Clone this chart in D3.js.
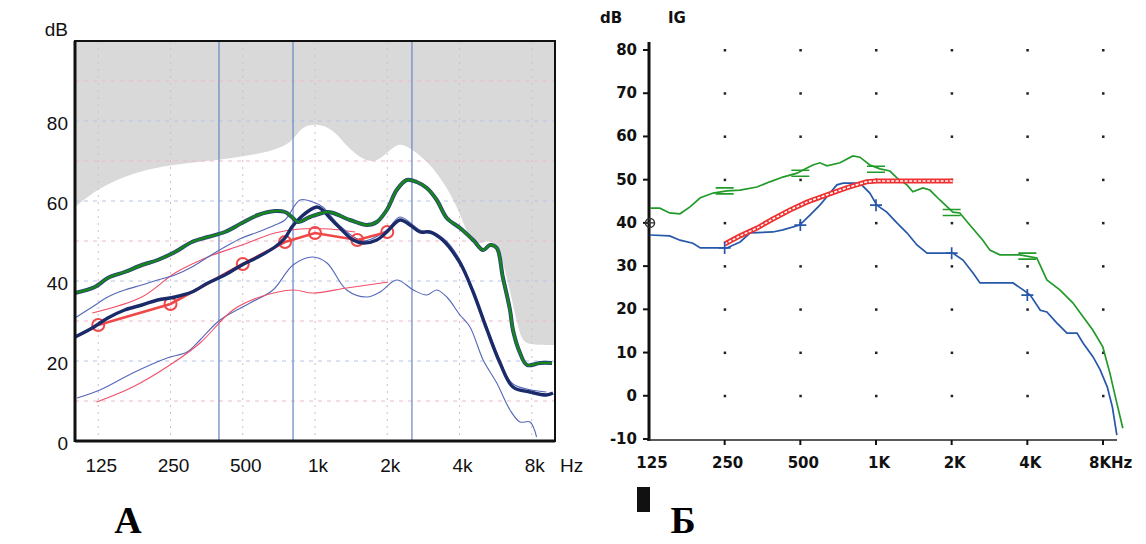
<!DOCTYPE html>
<html>
<head>
<meta charset="utf-8">
<script src="https://cdn.jsdelivr.net/npm/d3@7"></script>
<style>
  body { margin: 0; background: #fff; }
  svg { display: block; }
  .lblA { font-family: "Liberation Sans", Arial, sans-serif; font-size: 19px; fill: #111; }
  .lblB { font-family: "DejaVu Sans", sans-serif; font-size: 15px; font-weight: 600; fill: #111; }
  .panel { font-family: "Liberation Serif", serif; font-weight: bold; font-size: 38px; fill: #000; }
</style>
</head>
<body>
<svg id="chart" width="1146" height="544"></svg>
<script>
// ---------- panel A ----------
const octaveFreqs = [125, 250, 500, 1000, 2000, 4000, 8000];
const octaveLabelsA = ["125", "250", "500", "1k", "2k", "4k", "8k"];
const dbTicksA = [0, 20, 40, 60, 80];
const gridDbA = [10, 20, 30, 40, 50, 60, 70, 80, 90];
const channelEdgesA = [398, 810, 2535];

// upper edge of the white (in-range) region, the rest stays grey
const limitFreqA = [100, 127, 174, 242, 398, 630, 810, 866, 1019, 1206, 1355, 1646, 1866, 2190, 2410, 3014, 3540, 4020, 4290, 4700, 5360, 5900, 6494, 7148, 7640, 10000];
const limitDbA = [58.5, 63.5, 67, 69, 70.25, 72, 74.5, 78.5, 79.5, 77.75, 73.5, 69.5, 70.25, 74.5, 74, 69.5, 63.5, 57, 52, 48.5, 50.75, 47.75, 37.75, 25.75, 24, 24];

const greenFreqA = [100, 121, 137, 161, 190, 221, 261, 307, 358, 421, 496, 579, 681, 750, 801, 849, 953, 1122, 1191, 1399, 1646, 1810, 1991, 2190, 2410, 2654, 2922, 3216, 3540, 4020, 4560, 5019, 5360, 5720, 6060, 6494, 6680, 7148, 7640, 8660, 9720];
const greenDbA = [37, 38.5, 40.75, 42.25, 44, 45.25, 47.25, 49.75, 51, 52.25, 54.5, 56.5, 57.5, 57.25, 56, 54.75, 56, 57.25, 57, 55.25, 54, 54.75, 57.75, 62.75, 65.25, 64.75, 63.25, 60.25, 55.75, 53.25, 50.25, 47.75, 49, 48.25, 41, 32.75, 27.75, 22, 19, 19.5, 19.5];

const navyFreqA = [100, 118, 137, 161, 190, 221, 261, 307, 358, 421, 496, 579, 681, 750, 801, 866, 953, 1019, 1076, 1155, 1271, 1441, 1586, 1810, 1991, 2261, 2489, 2738, 3014, 3404, 4020, 4560, 5210, 5900, 6680, 7868, 9200, 9816];
const navyDbA = [26, 28.25, 30.75, 32.75, 34, 35.25, 36, 37.25, 39.5, 41.5, 44, 46, 48.5, 50.75, 53.5, 55.75, 57.75, 58.5, 57.75, 55.75, 53.25, 50.25, 49.5, 50.25, 52.25, 55.25, 54, 52.25, 52.25, 50.25, 44.5, 37.25, 27.75, 19.5, 13.5, 12.25, 11.5, 12];

const thinBlueHiFreqA = [100, 118, 137, 161, 190, 221, 261, 307, 358, 421, 496, 579, 681, 750, 866, 979, 1076, 1271, 1586, 1991, 2261, 2738, 3404, 4020, 5210, 5900, 6680, 9200];
const thinBlueHiDbA = [30.75, 33.5, 36, 37.75, 39, 40.25, 41.5, 43.5, 46, 48.5, 50.75, 52.25, 54, 55.25, 60.25, 59.75, 58.5, 53.75, 50, 52.75, 56, 52.75, 50.75, 45.25, 28.5, 20.25, 14.25, 12.25];

const thinBlueLoFreqA = [102, 127, 174, 242, 293, 332, 402, 536, 668, 810, 979, 1122, 1355, 1646, 1866, 2190, 2568, 2922, 3216, 3540, 4020, 4424, 5019, 5720, 6494, 7148, 7868, 8380];
const thinBlueLoDbA = [10.75, 12.75, 17, 20.75, 22.25, 25.25, 30.25, 34.5, 37.75, 44, 46, 44.5, 37.75, 36, 37.25, 40.25, 37.75, 36.5, 37.75, 36, 31.5, 28.5, 20.25, 14.5, 7.75, 4.75, 4.75, 1];

const thinRedHiFreqA = [118, 190, 261, 358, 496, 681, 866, 1155, 1470];
const thinRedHiDbA = [32, 36, 42, 46, 49, 52, 53, 53, 52.25];

const thinRedLoFreqA = [123, 174, 256, 332, 455, 590, 810, 979, 1355, 2020];
const thinRedLoDbA = [9.75, 13.5, 19.5, 24.5, 32.75, 36, 37.75, 37, 38.25, 39.75];

const redFreqA = [125, 250, 500, 750, 1000, 1500, 2000];
const redDbA = [29, 34.25, 44.25, 49.75, 52, 50.25, 52.25];

// ---------- panel B ----------
const octaveLabelsB = ["125", "250", "500", "1K", "2K", "4K", "8KHz"];
const dbTicksB = [-10, 0, 10, 20, 30, 40, 50, 60, 70, 80];
const dotFreqB = [250, 500, 1000, 2000, 4000, 8000];
const dotDbB = [0, 10, 20, 30, 40, 50, 60, 70, 80];

const greenFreqB = [126, 138, 151, 166, 182, 200, 225, 255, 288, 336, 378, 426, 485, 531, 561, 598, 638, 719, 809, 863, 945, 1037, 1136, 1211, 1327, 1402, 1537, 1638, 1795, 2022, 2155, 2362, 2661, 2838, 3110, 3734, 4363, 4784, 5388, 6067, 7285, 7985, 8516, 9081, 9595];
const greenDbB = [43.4, 43.4, 42.3, 42.1, 43.7, 45.8, 46.9, 47.4, 47.6, 48.3, 49.5, 50.6, 51.5, 52.7, 53.4, 53.9, 53.2, 53.9, 55.5, 55.2, 53.4, 52.5, 52.0, 50.4, 48.8, 47.2, 48.1, 47.6, 45.3, 42.5, 42.3, 39.5, 36.0, 33.7, 32.6, 32.6, 31.9, 26.8, 24.5, 21.5, 15.2, 11.3, 5.3, -1.7, -7.5];

const blueFreqB = [126, 151, 166, 187, 200, 255, 288, 316, 389, 426, 497, 546, 598, 656, 699, 740, 863, 945, 1008, 1104, 1211, 1327, 1455, 1596, 2022, 2218, 2432, 2593, 3510, 3850, 4108, 4505, 4784, 5246, 5752, 6307, 6663, 7305, 7797, 8322, 8717, 9081];
const blueDbB = [37.2, 37.0, 36.0, 35.3, 34.2, 34.2, 35.6, 37.7, 37.9, 38.4, 39.5, 41.8, 44.1, 46.9, 48.8, 49.2, 49.2, 46.9, 44.1, 42.5, 40.0, 37.7, 34.9, 33.0, 33.0, 31.4, 28.4, 26.1, 26.1, 24.5, 23.3, 19.8, 19.4, 16.8, 14.5, 14.5, 12.2, 9.0, 6.0, 2.0, -2.6, -9.1];

const redFreqB = [250, 288, 336, 389, 455, 531, 638, 763, 918, 1008, 2022];
const redDbB = [35.1, 37.0, 38.8, 40.9, 43.0, 44.8, 46.5, 48.1, 49.5, 49.7, 49.7];

const markFreqB = [250, 500, 1000, 2000, 4000];
const greenMarkDbB = [47.4, 51.5, 52.4, 42.4, 32.3];
const blueMarkDbB = [34.2, 39.5, 44.1, 33.0, 23.3];

const zip = (fs, ds) => fs.map((f, i) => [f, ds[i]]);

const svg = d3.select("#chart");

// ================= A =================
const xA = d3.scaleLog().domain([100, 10000]).range([75, 555]);
const yA = d3.scaleLinear().domain([0, 100]).range([441, 41]);
const gA = svg.append("g");

gA.append("rect")
    .attr("x", xA(100)).attr("y", yA(100))
    .attr("width", xA(10000) - xA(100)).attr("height", yA(0) - yA(100))
    .attr("fill", "#d9d9d9");

gA.append("path")
    .datum(zip(limitFreqA, limitDbA))
    .attr("fill", "#fff")
    .attr("d", d3.area().curve(d3.curveBasis)
        .x(d => xA(d[0])).y0(yA(0)).y1(d => yA(d[1])));

// faint dashed grid
gA.selectAll(".hgrid").data(gridDbA).enter().append("line")
    .attr("x1", xA(100)).attr("x2", xA(10000))
    .attr("y1", d => yA(d)).attr("y2", d => yA(d))
    .attr("stroke", (d, i) => i % 2 ? "#b8c4e6" : "#efb8c8")
    .attr("stroke-width", 1)
    .attr("stroke-dasharray", "4,5");
gA.selectAll(".vgrid").data(octaveFreqs).enter().append("line")
    .attr("x1", d => xA(d)).attr("x2", d => xA(d))
    .attr("y1", yA(100)).attr("y2", yA(0))
    .attr("stroke", "#dcb8d0")
    .attr("stroke-width", 1)
    .attr("stroke-dasharray", "2,5");

gA.selectAll(".edge").data(channelEdgesA).enter().append("line")
    .attr("x1", d => xA(d)).attr("x2", d => xA(d))
    .attr("y1", yA(100)).attr("y2", yA(0))
    .attr("stroke", "#6f8cc6")
    .attr("stroke-width", 1.3);

const lineA = d3.line().curve(d3.curveCatmullRom.alpha(0.5))
    .x(d => xA(d[0])).y(d => yA(d[1]));

const thinA = [
    [thinBlueLoFreqA, thinBlueLoDbA, "#5468b8"],
    [thinRedLoFreqA, thinRedLoDbA, "#f0506a"],
    [thinRedHiFreqA, thinRedHiDbA, "#f0506a"],
    [thinBlueHiFreqA, thinBlueHiDbA, "#5468b8"]
];
thinA.forEach(c => {
    gA.append("path").datum(zip(c[0], c[1]))
        .attr("fill", "none").attr("stroke", c[2]).attr("stroke-width", 1.1)
        .attr("d", lineA);
});

gA.append("path").datum(zip(redFreqA, redDbA))
    .attr("fill", "none").attr("stroke", "#f04848").attr("stroke-width", 2.6)
    .attr("d", d3.line().x(d => xA(d[0])).y(d => yA(d[1])));
gA.selectAll(".rc").data(zip(redFreqA, redDbA)).enter().append("circle")
    .attr("cx", d => xA(d[0])).attr("cy", d => yA(d[1])).attr("r", 6)
    .attr("fill", "none").attr("stroke", "#f04848").attr("stroke-width", 2);

gA.append("path").datum(zip(navyFreqA, navyDbA))
    .attr("fill", "none").attr("stroke", "#1b2a68").attr("stroke-width", 3.4)
    .attr("d", lineA);
gA.append("path").datum(zip(greenFreqA, greenDbA))
    .attr("fill", "none").attr("stroke", "#2a3f7a").attr("stroke-width", 4)
    .attr("d", lineA);
gA.append("path").datum(zip(greenFreqA, greenDbA))
    .attr("fill", "none").attr("stroke", "#17871c").attr("stroke-width", 2.4)
    .attr("d", lineA);

// frame
gA.append("rect")
    .attr("x", xA(100)).attr("y", yA(100))
    .attr("width", xA(10000) - xA(100)).attr("height", yA(0) - yA(100))
    .attr("fill", "none").attr("stroke", "#111").attr("stroke-width", 2);
gA.append("line").attr("x1", xA(100)).attr("x2", xA(100)).attr("y1", yA(100)).attr("y2", yA(0) + 1)
    .attr("stroke", "#111").attr("stroke-width", 3);
gA.append("line").attr("x1", xA(100)).attr("x2", xA(10000)).attr("y1", yA(0)).attr("y2", yA(0))
    .attr("stroke", "#111").attr("stroke-width", 3);

gA.selectAll(".yl").data(dbTicksA).enter().append("text")
    .attr("class", "lblA").attr("text-anchor", "end")
    .attr("x", 68).attr("y", d => yA(d) + 9)
    .text(d => d);
gA.append("text").attr("class", "lblA").attr("text-anchor", "end")
    .attr("x", 68).attr("y", 36).text("dB");
gA.selectAll(".xl").data(octaveFreqs).enter().append("text")
    .attr("class", "lblA").attr("text-anchor", "middle")
    .attr("x", d => xA(d) + 3).attr("y", 472)
    .text((d, i) => octaveLabelsA[i]);
gA.append("text").attr("class", "lblA").attr("x", 560).attr("y", 472).text("Hz");

// ================= Б =================
const xB = d3.scaleLog().domain([125, 8000]).range([649, 1103]);
const yB = d3.scaleLinear().domain([-10, 80]).range([439, 50]);
const gB = svg.append("g");

gB.selectAll(".dots").data(d3.cross(dotFreqB, dotDbB)).enter().append("rect")
    .attr("x", d => xB(d[0]) - 1).attr("y", d => yB(d[1]) - 1)
    .attr("width", 2.5).attr("height", 2.5).attr("fill", "#222");

gB.append("line").attr("x1", 649).attr("x2", 649).attr("y1", 42).attr("y2", yB(-10) + 2)
    .attr("stroke", "#111").attr("stroke-width", 3);
gB.append("line").attr("x1", 647).attr("x2", 1117).attr("y1", yB(-10) + 1).attr("y2", yB(-10) + 1)
    .attr("stroke", "#222").attr("stroke-width", 1.5);
gB.selectAll(".yt").data(dbTicksB).enter().append("line")
    .attr("x1", 643).attr("x2", 649).attr("y1", d => yB(d)).attr("y2", d => yB(d))
    .attr("stroke", "#111").attr("stroke-width", 2);
gB.selectAll(".xt").data(octaveFreqs.slice(1)).enter().append("line")
    .attr("x1", d => xB(d)).attr("x2", d => xB(d)).attr("y1", yB(-10) + 1).attr("y2", yB(-10) + 6)
    .attr("stroke", "#111").attr("stroke-width", 2);

gB.selectAll(".yl").data(dbTicksB).enter().append("text")
    .attr("class", "lblB").attr("text-anchor", "end")
    .attr("x", 637).attr("y", d => yB(d) + 5)
    .text(d => d);
gB.selectAll(".xl").data(octaveFreqs).enter().append("text")
    .attr("class", "lblB").attr("text-anchor", (d, i) => i === 6 ? "start" : "middle")
    .attr("x", (d, i) => i === 6 ? xB(d) - 14 : xB(d) + 3).attr("y", 468)
    .text((d, i) => octaveLabelsB[i]);
gB.append("text").attr("class", "lblB").attr("x", 600).attr("y", 23).text("dB");
gB.append("text").attr("class", "lblB").attr("x", 668).attr("y", 23).text("IG");

const lineB = d3.line().x(d => xB(d[0])).y(d => yB(d[1]));

gB.append("path").datum(zip(greenFreqB, greenDbB))
    .attr("fill", "none").attr("stroke", "#229a2a").attr("stroke-width", 1.7)
    .attr("d", lineB);
gB.append("path").datum(zip(blueFreqB, blueDbB))
    .attr("fill", "none").attr("stroke", "#2757a8").attr("stroke-width", 1.7)
    .attr("d", lineB);

// red double line
gB.append("path").datum(zip(redFreqB, redDbB))
    .attr("fill", "none").attr("stroke", "#f03030").attr("stroke-width", 5)
    .attr("d", lineB);
gB.append("path").datum(zip(redFreqB, redDbB))
    .attr("fill", "none").attr("stroke", "#fff").attr("stroke-width", 1.6)
    .attr("stroke-dasharray", "3,1.5")
    .attr("d", lineB);

// green "=" markers
gB.selectAll(".gm").data(zip(markFreqB, greenMarkDbB)).enter().append("path")
    .attr("fill", "none").attr("stroke", "#229a2a").attr("stroke-width", 1.6)
    .attr("d", d => {
        const x = xB(d[0]), y = yB(d[1]);
        return `M${x - 9},${y - 3}H${x + 9}M${x - 9},${y + 3}H${x + 9}`;
    });
// blue "+" markers
gB.selectAll(".bm").data(zip(markFreqB, blueMarkDbB)).enter().append("path")
    .attr("fill", "none").attr("stroke", "#2757a8").attr("stroke-width", 1.7)
    .attr("d", d => {
        const x = xB(d[0]), y = yB(d[1]);
        return `M${x - 6},${y}H${x + 6}M${x},${y - 6}V${y + 6}`;
    });
// symbol on the axis
gB.append("circle").attr("cx", 650).attr("cy", yB(40)).attr("r", 4.5)
    .attr("fill", "none").attr("stroke", "#333").attr("stroke-width", 1.5);
gB.append("path").attr("d", `M645,${yB(40)}H655M650,${yB(40) - 5}V${yB(40) + 5}`)
    .attr("stroke", "#333").attr("stroke-width", 1.2);

gB.append("rect").attr("x", 637).attr("y", 487).attr("width", 13).attr("height", 25).attr("fill", "#111");

// panel letters
svg.append("text").attr("class", "panel").attr("text-anchor", "middle").attr("x", 128).attr("y", 533).text("А");
svg.append("text").attr("class", "panel").attr("text-anchor", "middle").attr("x", 683).attr("y", 533).text("Б");
</script>
</body>
</html>
